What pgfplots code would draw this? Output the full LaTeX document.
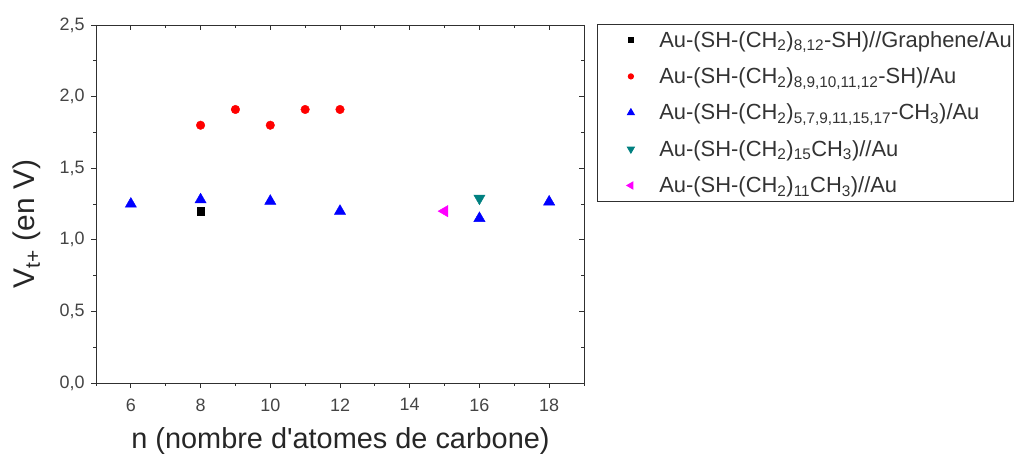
\documentclass[border=0pt]{standalone}
\usepackage{pgfplots}
\pgfplotsset{compat=1.18}
\usepackage{fontspec}
\setmainfont{Liberation Sans}

\definecolor{framegray}{HTML}{303030}
\definecolor{ticktext}{HTML}{444444}
\definecolor{mkblue}{HTML}{0000FF}
\definecolor{mkred}{HTML}{FF0000}
\definecolor{mkteal}{HTML}{008080}
\definecolor{mkmagenta}{HTML}{FF00FF}

\pgfplotsset{
  frameaxis/.style={
    at={(96bp,74bp)}, anchor=south west,
    scale only axis, width=488bp, height=358bp,
    xmin=5, xmax=19, ymin=0, ymax=2.5,
    xtick={6,8,...,18}, minor xtick={5,7,...,19},
    ytick={0,0.5,...,2.5}, minor ytick={0.25,0.75,...,2.25},
    major tick length=5bp, minor tick length=3bp,
    axis line style={framegray, line width=0.9pt},
    every tick/.style={framegray, line width=0.9pt},
  },
}

\begin{document}
\begin{tikzpicture}[x=1bp,y=1bp]
\useasboundingbox (0,0) rectangle (1021,457);

% ticks on the top and right edges point inward
\begin{axis}[frameaxis,
  xtick pos=right, ytick pos=right, tick align=inside,
  xticklabels={}, yticklabels={}]
\end{axis}

\begin{axis}[frameaxis,
  xtick pos=left, ytick pos=left, tick align=outside,
  /pgf/number format/assume math mode=true,
  tick label style={font=\fontsize{18}{20}\selectfont, text=ticktext},
  xticklabel style={yshift=-7bp},
  yticklabel style={xshift=-3bp, /pgf/number format/.cd, use comma, fixed, fixed zerofill, precision=1},
  xlabel={n (nombre d\textquotesingle atomes de carbone)},
  ylabel={V\textsubscript{t+} (en V)},
  every axis x label/.style={at={(axis description cs:0.501,-0.162)}, anchor=center,
    font=\fontsize{29}{32}\selectfont, text=black!85},
  every axis y label/.style={at={(axis description cs:-0.141,0.444)}, anchor=center, rotate=90,
    font=\fontsize{30}{32}\selectfont, text=black!85},
  legend cell align=left,
  legend image code/.code={%
    \path (-33bp,0bp) (26bp,0bp);
    \draw[#1, every mark/.append style={scale=0.62}] plot coordinates {(0bp,0bp)};
  },
  legend style={
    at={(1.0266,1.003)}, anchor=north west,
    draw=framegray, line width=0.9pt,
    font=\fontsize{22}{26}\selectfont, text=black!80,
    row sep=15bp, inner xsep=0bp, inner ysep=5bp,
    /tikz/every even column/.append style={column sep=0bp},
  },
]
% Graphene junction
\addplot[only marks, mark=square*, mark size=3.6bp, color=black]
  coordinates {(8,1.20)};
\addlegendentry{Au-(SH-(CH\textsubscript{2})\textsubscript{8,12}-SH)//Graphene/Au}

% dithiols
\addplot[only marks, mark=*, mark size=4.3bp, color=mkred]
  coordinates {(8,1.80) (9,1.91) (10,1.80) (11,1.91) (12,1.91)};
\addlegendentry{Au-(SH-(CH\textsubscript{2})\textsubscript{8,9,10,11,12}-SH)/Au}

% alkanethiols
\addplot[only marks, mark=triangle*, mark size=6.5bp, color=mkblue]
  coordinates {(6,1.25) (8,1.28) (10,1.27) (12,1.20) (16,1.15) (18,1.265)};
\addlegendentry{Au-(SH-(CH\textsubscript{2})\textsubscript{5,7,9,11,15,17}-CH\textsubscript{3})/Au}

\addplot[only marks, mark=triangle*, mark size=6.5bp, color=mkteal,
  mark options={rotate=180}]
  coordinates {(16,1.29)};
\addlegendentry{Au-(SH-(CH\textsubscript{2})\textsubscript{15}CH\textsubscript{3})//Au}

\addplot[only marks, mark=triangle*, mark size=6.5bp, color=mkmagenta,
  mark options={rotate=90}]
  coordinates {(15,1.20)};
\addlegendentry{Au-(SH-(CH\textsubscript{2})\textsubscript{11}CH\textsubscript{3})//Au}
\end{axis}
\end{tikzpicture}
\end{document}
